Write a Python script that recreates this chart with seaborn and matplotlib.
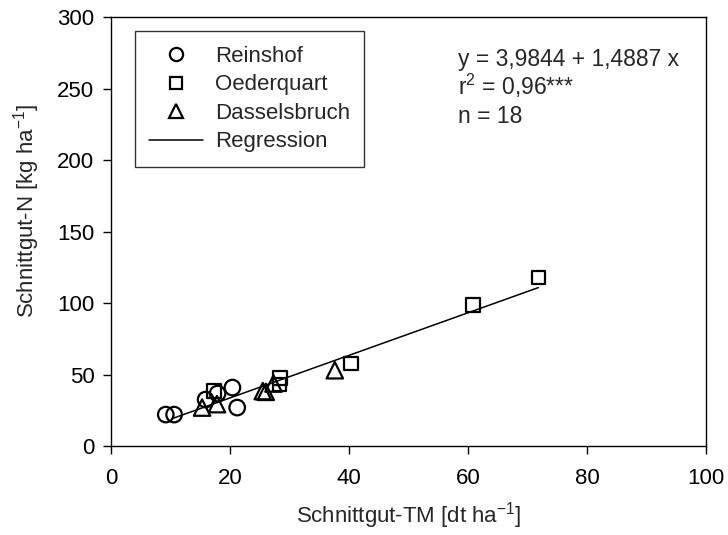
import numpy as np
import pandas as pd
import matplotlib
matplotlib.use("Agg")
import matplotlib.pyplot as plt
import seaborn as sns
from matplotlib.lines import Line2D

# data
reinshof_tm = [9.2, 10.6, 15.9, 17.9, 20.4, 21.2]
reinshof_n = [22.1, 22.1, 32.6, 36.8, 41.0, 27.0]
oederquart_tm = [17.3, 28.4, 28.3, 40.3, 60.8, 71.8]
oederquart_n = [38.7, 47.8, 43.0, 57.8, 98.6, 118.0]
dassel_tm = [15.3, 17.8, 25.5, 26.0, 27.3, 37.6]
dassel_n = [27.0, 29.4, 38.5, 38.0, 43.8, 53.1]
intercept = 3.9844
slope = 1.4887
sites = ["Reinshof", "Oederquart", "Dasselsbruch"]

df = pd.DataFrame({
    "TM": reinshof_tm + oederquart_tm + dassel_tm,
    "N": reinshof_n + oederquart_n + dassel_n,
    "Ort": ["Reinshof"] * len(reinshof_tm) + ["Oederquart"] * len(oederquart_tm)
           + ["Dasselsbruch"] * len(dassel_tm),
})

sns.set_style("ticks")
plt.rcParams["font.family"] = ["Liberation Sans", "DejaVu Sans"]
plt.rcParams["mathtext.default"] = "regular"
FS = 16

fig = plt.figure(figsize=(7.28, 5.35), dpi=100)
ax = fig.add_axes([0.1525, 0.166, 0.8175, 0.802])

markers = {"Reinshof": "o", "Oederquart": "s", "Dasselsbruch": "^"}
sizes = {"Reinshof": 125, "Oederquart": 95, "Dasselsbruch": 140}
sns.scatterplot(data=df, x="TM", y="N", style="Ort", markers=markers,
                style_order=sites, size="Ort", sizes=sizes, size_order=sites,
                color="black", linewidth=1.6, legend=False, ax=ax, zorder=3)
for coll in ax.collections:
    coll.set_facecolor("none")
    coll.set_edgecolor("black")

xr = np.array([df["TM"].min() + 1.2, df["TM"].max()])
sns.lineplot(x=xr, y=intercept + slope * xr, color="black", linewidth=1.1, ax=ax, zorder=2)

ax.set_xlim(0, 100)
ax.set_ylim(0, 300)
ax.set_xticks([0, 20, 40, 60, 80, 100])
ax.set_yticks([0, 50, 100, 150, 200, 250, 300])
ax.tick_params(labelsize=FS, length=6, width=1, direction="out", colors="black")
ax.tick_params(axis="x", pad=10)
ax.tick_params(axis="y", pad=6)
for s in ["top", "right", "left", "bottom"]:
    ax.spines[s].set_visible(True)
    ax.spines[s].set_linewidth(1)
    ax.spines[s].set_color("black")

ax.set_xlabel("Schnittgut-TM [dt ha$^{-1}$]", fontsize=FS, labelpad=8)
ax.set_ylabel("Schnittgut-N [kg ha$^{-1}$]", fontsize=FS)
ax.yaxis.set_label_coords(-0.116, 0.548)

handles = [
    Line2D([], [], marker="o", ls="none", mfc="none", mec="black", mew=1.6, ms=9.5),
    Line2D([], [], marker="s", ls="none", mfc="none", mec="black", mew=1.6, ms=8.5),
    Line2D([], [], marker="^", ls="none", mfc="none", mec="black", mew=1.6, ms=10),
    Line2D([], [], color="black", lw=1.1),
]
leg = ax.legend(handles, sites + ["Regression"], loc="upper left",
                bbox_to_anchor=(0.04, 0.967), borderaxespad=0, fontsize=FS,
                frameon=True, fancybox=False, edgecolor="black",
                handlelength=2.4, handletextpad=0.55, borderpad=0.65,
                labelspacing=0.34)
leg.get_frame().set_linewidth(1)

ax.text(0.583, 0.886, "y = 3,9844 + 1,4887 x", transform=ax.transAxes, fontsize=16.5, va="baseline")
ax.text(0.583, 0.818, "r$^2$ = 0,96***", transform=ax.transAxes, fontsize=16.5, va="baseline")
ax.text(0.583, 0.753, "n = 18", transform=ax.transAxes, fontsize=16.5, va="baseline")

fig.savefig("out.png", dpi=100)
